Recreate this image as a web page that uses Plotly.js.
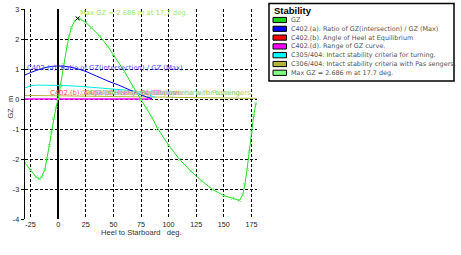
<!DOCTYPE html>
<html>
<head>
<meta charset="utf-8">
<script src="https://cdn.plot.ly/plotly-3.0.1.min.js"></script>
<style>html,body{margin:0;padding:0;background:#fff;}#chart{width:461px;height:255px;}</style>
</head>
<body>
<div id="chart"></div>
<script>
// ---- data ----
const gzHeel = [-30,-25,-20,-17,-15,-12,-10,-8,-6,-4,-2,0,2,5,8,10,12,15,17.7,20,25,30,37.7,45,50,60,68,75,80,85,90,100,110,120,130,140,150,158,164,167,169,171,173,175,177,179];
const gzValue = [-2.13,-2.38,-2.60,-2.66,-2.60,-2.35,-1.98,-1.55,-1.10,-0.65,-0.30,0.0,0.45,1.15,1.75,2.10,2.38,2.60,2.686,2.66,2.55,2.38,2.09,1.75,1.48,0.92,0.40,-0.02,-0.30,-0.62,-0.98,-1.54,-2.02,-2.40,-2.73,-3.02,-3.22,-3.31,-3.38,-3.20,-2.85,-2.35,-1.75,-1.10,-0.55,-0.15];

const ratioHeel = [-30,-25,-20,-15,-10,-5,0,5,10,15,20,25,30,35,40,45,50,55,60,65,70,75,80,85];
const ratioValue = [0.80,0.88,0.95,1.01,1.06,1.09,1.10,1.09,1.07,1.03,0.98,0.92,0.84,0.76,0.68,0.60,0.53,0.46,0.38,0.30,0.22,0.14,0.07,0.02];

const turnHeel = [-30,-25,-20,-10,0,10,20,30,40,50,60,70,80,85,88];
const turnValue = [0.37,0.44,0.46,0.46,0.45,0.44,0.42,0.39,0.36,0.33,0.30,0.26,0.18,0.09,0.05];

const rangeHeel = [-30,85];
const rangeValue = [0,0];

const passHeel = [-30,180];
const passValue = [0.12,0.02];

const maxHeel = [17.7];
const maxValue = [2.686];

const legendTitle = "Stability";
const legendLabels = ["GZ","C402.(a). Ratio of GZ(intersection) / GZ (Max)","C402.(b). Angle of Heel at Equilibrium","C402.(d). Range of GZ curve.","C305/404: Intact stability criteria for turning.","C306/404: Intact stability criteria with Pas sengers.","Max GZ = 2.686 m at 17.7 deg."];
const legendColors = ["#20d020","#0000ff","#ff0000","#ff00ff","#00ffff","#b4b43c","#80ff80"];

const xTicks = [-25,0,25,50,75,100,125,150,175];
const yTicks = [-4,-3,-2,-1,0,1,2,3];

// ---- layout helpers ----
const L = 25, R = 204, T = 9, B = 36, WIDTH = 461, HEIGHT = 255;
const PW = WIDTH - L - R, PH = HEIGHT - T - B;
const px = x => (x - L) / PW;
const py = y => 1 - (y - T) / PH;
const FONT = "Liberation Sans, Arial, sans-serif";
const WIDE = "DejaVu Sans, Verdana, sans-serif";

const traces = [
  {x: passHeel, y: passValue, mode: 'lines', line: {color: '#b4b43c', width: 1}, hoverinfo: 'skip'},
  {x: rangeHeel, y: rangeValue, mode: 'lines', line: {color: '#ff00ff', width: 1.5}, hoverinfo: 'skip'},
  {x: turnHeel, y: turnValue, mode: 'lines', line: {color: '#00e8e8', width: 1, shape: 'spline'}, hoverinfo: 'skip'},
  {x: ratioHeel, y: ratioValue, mode: 'lines', line: {color: '#0000ff', width: 1, shape: 'spline'}, hoverinfo: 'skip'},
  {x: gzHeel, y: gzValue, mode: 'lines+markers', line: {color: '#22dd22', width: 1}, marker: {symbol: 'x-thin', size: 3, line: {color: '#66ee66', width: 1}}, hoverinfo: 'skip'},
  {x: maxHeel, y: maxValue, mode: 'markers', marker: {symbol: 'x-thin', size: 4, line: {color: '#000', width: 1}}, hoverinfo: 'skip'}
];

const shapes = [];
const annotations = [];

// legend box
shapes.push({type: 'rect', xref: 'paper', yref: 'paper', x0: px(269), x1: px(454), y0: py(3.5), y1: py(81), line: {color: '#000', width: 1.5}, fillcolor: '#fff'});
annotations.push({xref: 'paper', yref: 'paper', x: px(272), y: py(10.8), xanchor: 'left', yanchor: 'middle', text: '<b>' + legendTitle + '</b>', showarrow: false, font: {family: FONT, size: 9.5, color: '#000'}});
legendLabels.forEach((lab, i) => {
  const yc = 20 + i * 8.8;
  shapes.push({type: 'rect', xref: 'paper', yref: 'paper', x0: px(273), x1: px(286.5), y0: py(yc - 2.6), y1: py(yc + 2.6), line: {color: '#000', width: 1}, fillcolor: legendColors[i]});
  annotations.push({xref: 'paper', yref: 'paper', x: px(288.5), y: py(yc), xanchor: 'left', yanchor: 'middle', text: lab, showarrow: false, font: {family: WIDE, size: 6.45, color: '#555'}});
});

// in-plot labels
const lab = (text, x, y, color, anchor) => annotations.push({xref: 'x', yref: 'y', x: x, y: y, xanchor: anchor || 'left', yanchor: 'middle', text: text, showarrow: false, font: {family: WIDE, size: 6.8, color: color}});
lab(legendLabels[6], maxHeel[0], 2.88, '#9ee860');
lab("C402.(a). Ratio of GZ(intersection) / GZ (Max)", -29.8, 1.05, '#4646ff');
lab("C402.(b). Angle of Heel at Equilibrium", -9.5, 0.21, '#ff4a4a');
lab("C402.(d). Range of GZ curve.", 22, 0.21, '#ff55ff');
lab("C305/404: Intact stability criteria for turning.", 26, 0.21, '#55eeee');
lab("C306/404: Intact stability criteria with Passengers.", 178.5, 0.21, '#c8c850', 'right');

// axis titles
annotations.push({xref: 'paper', yref: 'paper', x: px(141), y: py(232.7), xanchor: 'center', yanchor: 'middle', text: 'Heel to Starboard   deg.', showarrow: false, font: {family: FONT, size: 7.6, color: '#333'}});
annotations.push({xref: 'paper', yref: 'paper', x: px(9.5), y: py(107), xanchor: 'center', yanchor: 'middle', text: 'GZ   m', textangle: -90, showarrow: false, font: {family: FONT, size: 7.4, color: '#333'}});

const layout = {
  width: WIDTH, height: HEIGHT,
  margin: {l: L, r: R, t: T, b: B, pad: 0, autoexpand: false},
  paper_bgcolor: '#fff', plot_bgcolor: '#fff',
  showlegend: false,
  font: {family: FONT, size: 7, color: '#000'},
  xaxis: {range: [-30, 180], tickvals: xTicks, ticktext: xTicks.map(String), showgrid: true, gridcolor: '#000', gridwidth: 1, griddash: '3px,2px', zeroline: true, zerolinecolor: '#000', zerolinewidth: 1.3, showline: false, ticks: '', tickfont: {family: FONT, size: 7.2, color: '#222'}, fixedrange: true},
  yaxis: {range: [-4, 3], tickvals: yTicks, ticktext: yTicks.map(String), showgrid: true, gridcolor: '#000', gridwidth: 1, griddash: '3px,2px', zeroline: false, showline: true, linecolor: '#000', linewidth: 1.3, ticks: 'outside', ticklen: 3, tickcolor: '#000', tickfont: {family: FONT, size: 7.2, color: '#222'}, fixedrange: true},
  shapes: shapes,
  annotations: annotations
};

Plotly.newPlot('chart', traces, layout, {staticPlot: true, displayModeBar: false});
</script>
</body>
</html>
